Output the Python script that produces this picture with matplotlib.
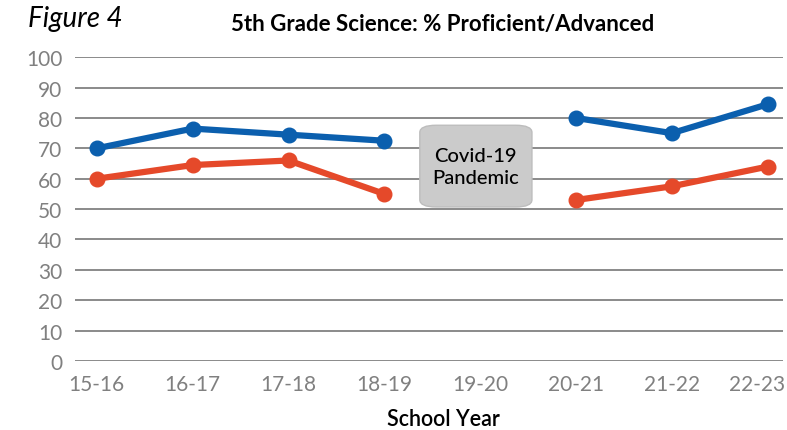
import matplotlib
matplotlib.use("Agg")
import matplotlib.pyplot as plt
import numpy as np
from matplotlib.patches import FancyBboxPatch

years = ["15-16", "16-17", "17-18", "18-19", "19-20", "20-21", "21-22", "22-23"]
# NaN for the pandemic year (no testing)
blue_vals = [70, 76.5, 74.5, 72.5, np.nan, 80, 75, 84.5]
red_vals = [60, 64.5, 66, 55, np.nan, 53, 57.5, 64]

BLUE = "#0b5fae"
RED = "#e5492a"
GRID = "#8a8a8a"
TICK = "#808080"

plt.rcParams["font.family"] = ["Lato", "DejaVu Sans"]

fig = plt.figure(figsize=(7.87, 4.31), dpi=100)
ax = fig.add_axes([0.095, 0.16, 0.9, 0.705])

x = np.arange(len(years))
for vals, col in [(blue_vals, BLUE), (red_vals, RED)]:
    ax.plot(x, vals, "-o", color=col, linewidth=4.5, markersize=10.5, clip_on=False, zorder=3)

ax.set_xlim(-0.23, 7.16)
ax.set_ylim(0, 100)
ax.set_yticks(range(0, 101, 10))
ax.set_xticks(x)
# the last label is nudged left so it stays inside the figure
ax.set_xticklabels(years[:-1] + [""])
ax.annotate(years[-1], xy=(x[-1], 0), xycoords=("data", "axes fraction"),
            xytext=(-8, -9), textcoords="offset points", ha="center", va="top",
            fontsize=15, color=TICK)
ax.grid(axis="y", color=GRID, linewidth=1.4)
ax.set_axisbelow(True)
for s in ax.spines.values():
    s.set_visible(False)
ax.tick_params(length=0, labelsize=15, colors=TICK)
ax.tick_params(axis="y", pad=9)
ax.tick_params(axis="x", pad=9)

ax.set_xlabel("School Year", fontsize=15.5, fontweight="semibold")
ax.xaxis.set_label_coords(0.52, -0.155)

# Covid box
box = FancyBboxPatch((3.37, 50.7), 1.17, 26.9, boxstyle="round,pad=0,rounding_size=0.17",
                     mutation_aspect=14, facecolor="#cbcbcb", edgecolor="#bdbdbd",
                     linewidth=1, zorder=4)
ax.add_patch(box)
ax.text(3.955, 64.0, "Covid-19\nPandemic", ha="center", va="center", fontsize=14.5,
        fontweight="medium", linespacing=1.4, zorder=5)

fig.text(0.562, 0.942, "5th Grade Science: % Proficient/Advanced", ha="center", va="center",
         fontsize=16, fontweight="bold")
fig.text(0.035, 0.955, "Figure 4", ha="left", va="center", fontsize=20, style="italic")

fig.savefig("out.png", dpi=100)
